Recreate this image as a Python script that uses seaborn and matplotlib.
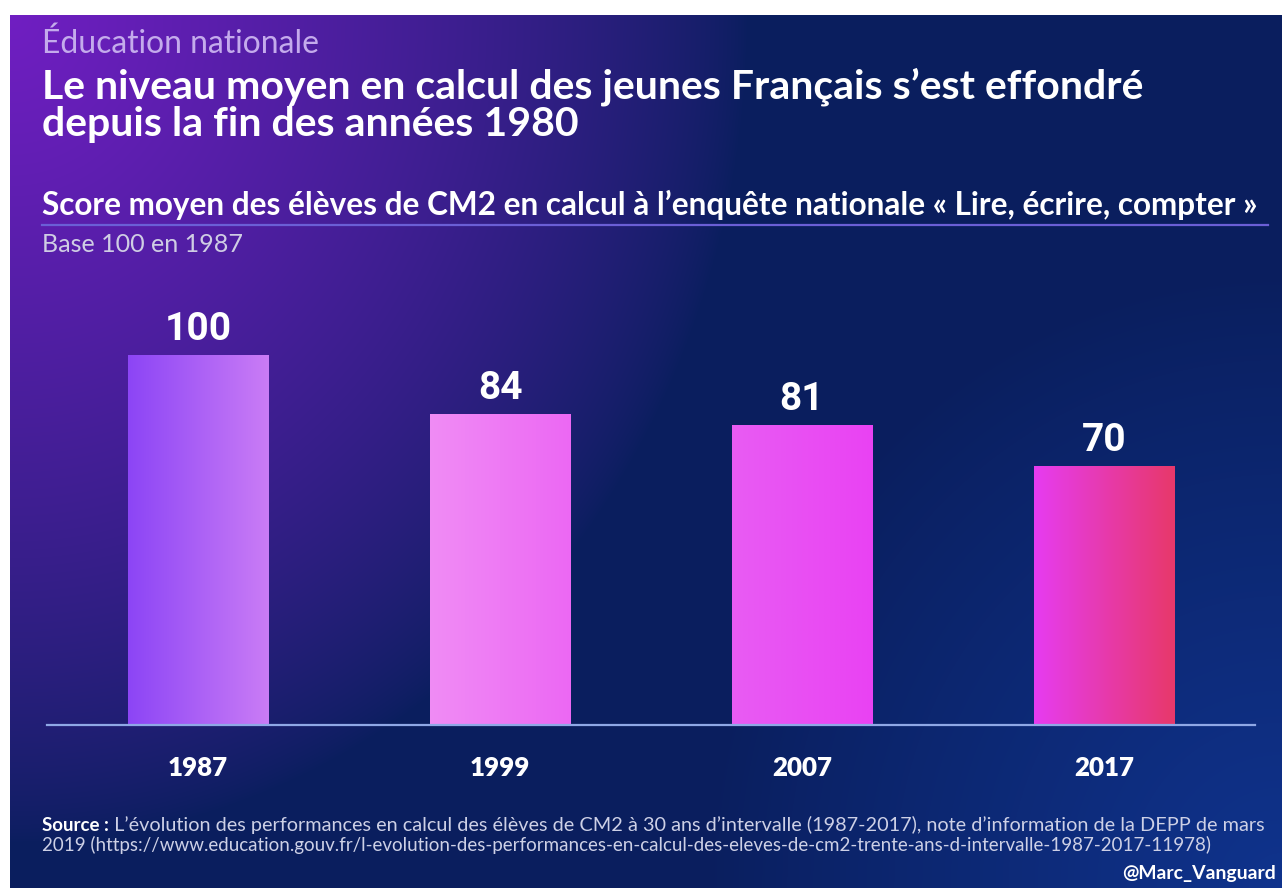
import numpy as np
import pandas as pd
import matplotlib
matplotlib.use("Agg")
import matplotlib.pyplot as plt
import seaborn as sns
from matplotlib.colors import LinearSegmentedColormap

# ---------------- data ----------------
years = ["1987", "1999", "2007", "2017"]
scores = [100, 84, 81, 70]

kicker = "Éducation nationale"
title_l1 = "Le niveau moyen en calcul des jeunes Français s’est effondré"
title_l2 = "depuis la fin des années 1980"
subtitle = "Score moyen des élèves de CM2 en calcul à l’enquête nationale « Lire, écrire, compter »"
base_note = "Base 100 en 1987"
source_bold = "Source :"
source_l1 = (" L’évolution des performances en calcul des élèves de CM2 à 30 ans d’intervalle "
             "(1987-2017), note d’information de la DEPP de mars")
source_l2 = ("2019 (https://www.education.gouv.fr/l-evolution-des-performances-en-calcul-des-"
             "eleves-de-cm2-trente-ans-d-intervalle-1987-2017-11978)")
signature = "@Marc_Vanguard"

# bar gradient colours (left -> right) per bar
bar_grads = [("#8C45F6", "#CA7CF5"), ("#F08CF5", "#EC68F3"),
             ("#E85CF3", "#EA42F3"), ("#E63CF1", "#E8386A")]

W, H = 1282, 888
fig = plt.figure(figsize=(W / 100, H / 100), dpi=100)
fig.patch.set_facecolor("white")

def fx(px):
    return px / W

def fy(py):
    return 1 - py / H

# ---------------- background panel ----------------
bg = fig.add_axes([fx(10), 0, 1 - fx(10), 1 - 15 / H])
bg.set_axis_off()
nx, ny = 400, 280
u = np.linspace(0, 1, nx)[None, :]
v = np.linspace(0, 1, ny)[:, None]
navy = np.array([0.04, 0.12, 0.37])
purple = np.array([0.44, 0.12, 0.76])
blue = np.array([0.06, 0.20, 0.55])
wp = np.clip(1 - np.sqrt((u / 0.58) ** 2 + (v / 0.95) ** 2), 0, 1) ** 0.75
wb = np.clip(1 - np.sqrt(((1 - u) / 0.45) ** 2 + ((1 - v) / 0.7) ** 2), 0, 1) ** 0.9
img = (navy[None, None, :] * (1 - wp[..., None]) + purple[None, None, :] * wp[..., None])
img = img * (1 - wb[..., None]) + blue[None, None, :] * wb[..., None]
bg.imshow(np.clip(img, 0, 1), aspect="auto", extent=[0, 1, 0, 1], interpolation="bilinear")
bg.set_xlim(0, 1)
bg.set_ylim(0, 1)

# ---------------- bar chart ----------------
ax = fig.add_axes([fx(47), (H - 725) / H, fx(1208), 444 / H])
ax.patch.set_alpha(0)
df = pd.DataFrame({"year": years, "score": scores})
sns.barplot(data=df, x="year", y="score", ax=ax, width=0.464, color="#E060F0",
            linewidth=0, saturation=1)
ax.set_xlim(-0.5, 3.5)
ax.set_ylim(0, 120)
for s in ["top", "right", "left"]:
    ax.spines[s].set_visible(False)
ax.spines["bottom"].set_color("#8FA8E6")
ax.spines["bottom"].set_linewidth(1.6)
ax.set_yticks([])
ax.set_xlabel("")
ax.set_ylabel("")
ax.tick_params(axis="x", length=0, pad=22, colors="white")
for lab in ax.get_xticklabels():
    lab.set_fontfamily("Lato")
    lab.set_fontweight("heavy")
    lab.set_fontsize(19)
    lab.set_color("white")

for patch, (c0, c1) in zip(ax.patches, bar_grads):
    x0, y0 = patch.get_x(), patch.get_y()
    w, h = patch.get_width(), patch.get_height()
    cmap = LinearSegmentedColormap.from_list("g", [c0, c1])
    grad = np.linspace(0, 1, 256)[None, :]
    im = ax.imshow(grad, cmap=cmap, aspect="auto", extent=[x0, x0 + w, y0, y0 + h],
                   zorder=2, interpolation="bilinear")
    im.set_clip_path(patch)
    patch.set_facecolor("none")
ax.set_xlim(-0.5, 3.5)
ax.set_ylim(0, 120)

vals = []
for patch, val in zip(ax.patches, scores):
    t = ax.annotate(f"{val}", xy=(patch.get_x() + patch.get_width() / 2, patch.get_height()),
                    xytext=(0, 11), textcoords="offset points", ha="center", va="baseline",
                    color="white", fontsize=26, fontweight="bold", family="Roboto", zorder=3)
    vals.append(t)

# ---------------- texts ----------------
def T(x, y, s, **kw):
    return fig.text(fx(x), fy(y), s, **kw)

t_kick = T(42, 44, kicker, color="#C4ABEC", fontsize=17, family="Lato",
           fontweight="normal", va="center")
t_t1 = T(42, 99, title_l1, color="white", fontsize=24, family="Lato",
         fontweight="bold", va="baseline")
t_t2 = T(42, 136, title_l2, color="white", fontsize=24, family="Lato",
         fontweight="bold", va="baseline")
t_sub = T(42, 205, subtitle, color="white", fontsize=17, family="Lato",
          fontweight="bold", va="center")
t_base = T(42, 245, base_note, color="#CFCDE4", fontsize=14, family="Lato",
           fontweight="normal", va="center")
fig.add_artist(plt.Line2D([fx(42), fx(1268)], [fy(225), fy(225)], color="#6B5FD6",
                          linewidth=1.6))
t_sb = T(42, 825, source_bold, color="white", fontsize=10.5, family="Lato",
         fontweight="bold", va="center")
t_s1 = T(42, 825, source_l1, color="#CDD0E6", fontsize=10.5, family="Lato",
         fontweight="normal", va="center")
t_s2 = T(42, 845, source_l2, color="#CDD0E6", fontsize=10.5, family="Lato",
         fontweight="normal", va="center")
t_sig = T(1276, 873, signature, color="white", fontsize=13, family="Lato",
          fontweight="bold", va="center", ha="right")

r = fig.canvas.get_renderer()

def fit(t, width):
    bb = t.get_window_extent(r)
    t.set_fontsize(t.get_fontsize() * width / bb.width)

fit(t_kick, 276)
fit(t_t1, 1103)
t_t2.set_fontsize(t_t1.get_fontsize())
fit(t_sub, 1220)
fit(t_base, 202)
fit(t_sig, 153)
fit(vals[0], 67)
for t in vals[1:]:
    t.set_fontsize(vals[0].get_fontsize())
lab0 = ax.get_xticklabels()[0]
bbl = lab0.get_window_extent(r)
ysz = lab0.get_fontsize() * 60 / bbl.width
for lab in ax.get_xticklabels():
    lab.set_fontsize(ysz)

# source line: bold prefix then regular text
fit(t_s2, 1176)
t_sb.set_fontsize(t_s2.get_fontsize())
t_s1.set_fontsize(t_s2.get_fontsize())
bbb = t_sb.get_window_extent(r)
t_s1.set_x(fx(bbb.x1))
bb1 = t_s1.get_window_extent(r)
target = 1262 - bbb.x1
t_s1.set_fontsize(t_s1.get_fontsize() * target / bb1.width)

fig.savefig("out.png", dpi=100, facecolor=fig.get_facecolor())
